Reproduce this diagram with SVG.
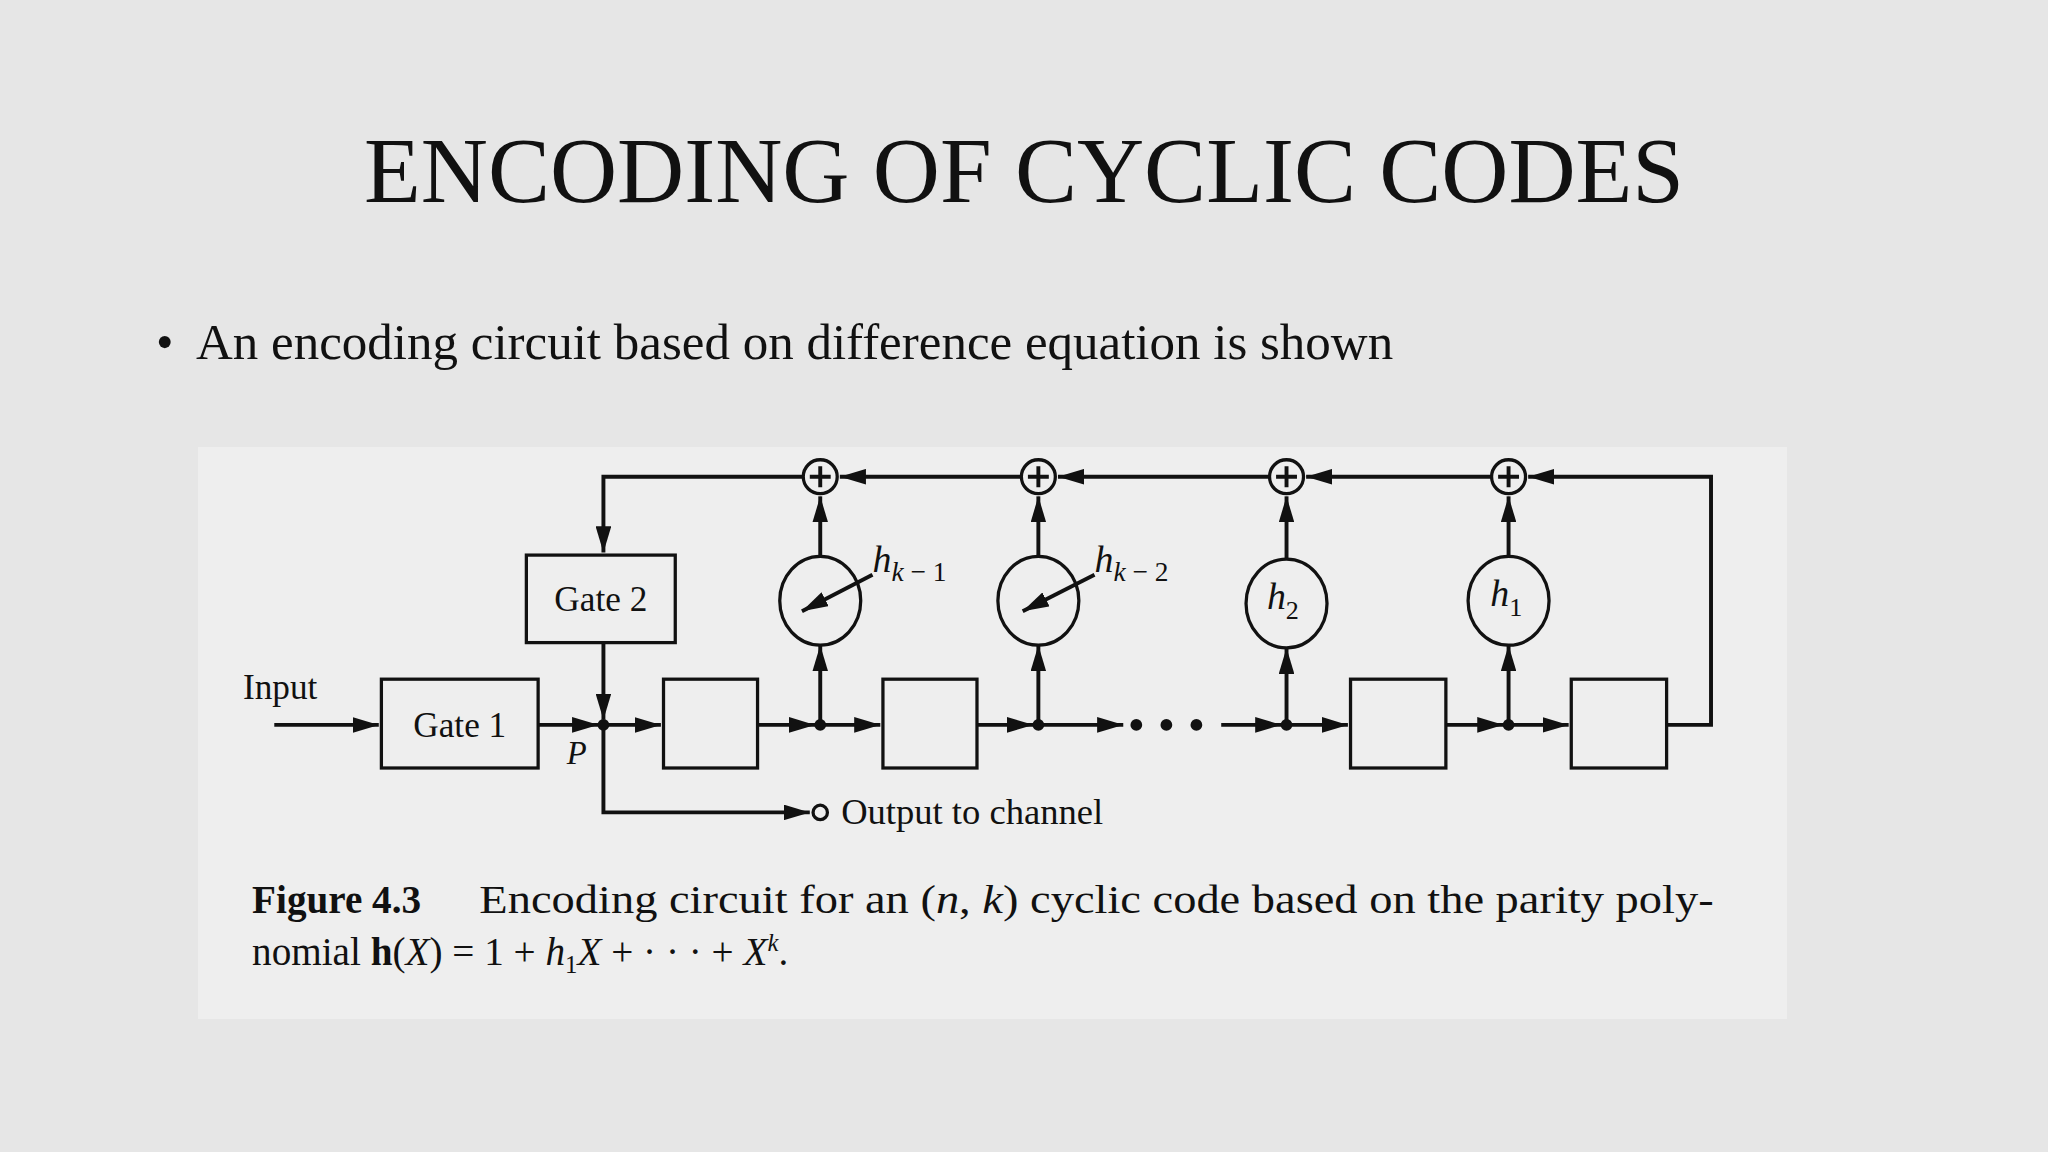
<svg xmlns="http://www.w3.org/2000/svg" width="2048" height="1152" viewBox="0 0 2048 1152">
<defs>
<marker id="ah" viewBox="0 0 10 10" preserveAspectRatio="none" refX="10" refY="5" markerWidth="20" markerHeight="12" markerUnits="userSpaceOnUse" orient="auto"><path d="M0,0 L10,5 L0,10 z" fill="#111"/></marker>
<style>
.ln{stroke:#111;stroke-width:3;fill:none}
.ar{stroke:#111;stroke-width:3;fill:none;marker-end:url(#ah)}
.bx{stroke:#111;stroke-width:2.5;fill:none}
.t{font-family:"Liberation Serif",serif;fill:#111}
</style>
</defs>
<rect width="2048" height="1152" fill="#e6e6e6"/>
<text x="1024" y="202" text-anchor="middle" class="t" font-size="93">ENCODING OF CYCLIC CODES</text>
<text x="156" y="359" class="t" font-size="50">•</text>
<text x="196" y="359" class="t" font-size="51">An encoding circuit based on difference equation is shown</text>
<rect x="198" y="447" width="1589" height="572" fill="#eeeeee"/>
<g transform="scale(1.30612)">
<g id="connectors">
<path class="ar" d="M210,555 H290"/>
<path class="ar" d="M412,555 H458"/>
<path class="ar" d="M462,555 H506"/>
<path class="ar" d="M580,555 H624"/>
<path class="ar" d="M628,555 H674"/>
<path class="ar" d="M748,555 H791"/>
<path class="ar" d="M795,555 H860"/>
<path class="ar" d="M935,555 H981"/>
<path class="ar" d="M985,555 H1032"/>
<path class="ar" d="M1107,555 H1151"/>
<path class="ar" d="M1155,555 H1201"/>
<path class="ar" d="M462,492 V551"/>
<path class="ar" d="M462,555 V622 H620"/>
<path class="ar" d="M1276,555 H1310 V365 H1170"/>
<path class="ar" d="M1142,365 H1000"/>
<path class="ar" d="M972,365 H810"/>
<path class="ar" d="M782,365 H643"/>
<path class="ar" d="M615,365 H462 V423"/>
<path class="ar" d="M628,555 V494"/><path class="ar" d="M628,426 V380"/>
<path class="ar" d="M795,555 V494"/><path class="ar" d="M795,426 V380"/>
<path class="ar" d="M985,555 V496"/><path class="ar" d="M985,428 V380"/>
<path class="ar" d="M1155,555 V494"/><path class="ar" d="M1155,426 V380"/>
<path class="ar" d="M668,440 L614,468" stroke-width="2"/>
<path class="ar" d="M838,440 L783,468" stroke-width="2"/>
<g fill="#111"><circle cx="462" cy="555" r="4.5"/><circle cx="628" cy="555" r="4.5"/><circle cx="795" cy="555" r="4.5"/><circle cx="985" cy="555" r="4.5"/><circle cx="1155" cy="555" r="4.5"/>
<circle cx="870" cy="555" r="4.5"/><circle cx="893" cy="555" r="4.5"/><circle cx="916" cy="555" r="4.5"/></g>
<circle cx="628" cy="622" r="5.5" fill="#eee" stroke="#111" stroke-width="2.5"/>
</g>
<g id="input"><text x="186" y="535" class="t" font-size="27">Input</text></g>
<g id="gate1"><rect class="bx" x="292" y="520" width="120" height="68"/><text x="352" y="564" text-anchor="middle" class="t" font-size="27">Gate 1</text></g>
<g id="gate2"><rect class="bx" x="403" y="425" width="114" height="67"/><text x="460" y="468" text-anchor="middle" class="t" font-size="27">Gate 2</text></g>
<g id="p"><text x="434" y="585" class="t" font-size="25" font-style="italic">P</text></g>
<g id="reg1"><rect class="bx" x="508" y="520" width="72" height="68"/></g>
<g id="reg2"><rect class="bx" x="676" y="520" width="72" height="68"/></g>
<g id="reg3"><rect class="bx" x="1034" y="520" width="73" height="68"/></g>
<g id="reg4"><rect class="bx" x="1203" y="520" width="73" height="68"/></g>
<g id="mul1"><ellipse class="bx" cx="628" cy="460" rx="31" ry="34"/><text x="668" y="438" class="t" font-size="29" font-style="italic">h<tspan font-size="21" dy="7">k <tspan font-style="normal">− 1</tspan></tspan></text></g>
<g id="mul2"><ellipse class="bx" cx="795" cy="460" rx="31" ry="34"/><text x="838" y="438" class="t" font-size="29" font-style="italic">h<tspan font-size="21" dy="7">k <tspan font-style="normal">− 2</tspan></tspan></text></g>
<g id="mul3"><ellipse class="bx" cx="985" cy="462" rx="31" ry="34"/><text x="970" y="466" class="t" font-size="29" font-style="italic">h<tspan font-size="20" dy="8" font-style="normal">2</tspan></text></g>
<g id="mul4"><ellipse class="bx" cx="1155" cy="460" rx="31" ry="34"/><text x="1141" y="464" class="t" font-size="29" font-style="italic">h<tspan font-size="20" dy="8" font-style="normal">1</tspan></text></g>
<g id="add1"><circle class="bx" cx="628" cy="365" r="13"/><path class="ln" stroke-width="1.8" d="M620,365 H636 M628,357 V373"/></g>
<g id="add2"><circle class="bx" cx="795" cy="365" r="13"/><path class="ln" stroke-width="1.8" d="M787,365 H803 M795,357 V373"/></g>
<g id="add3"><circle class="bx" cx="985" cy="365" r="13"/><path class="ln" stroke-width="1.8" d="M977,365 H993 M985,357 V373"/></g>
<g id="add4"><circle class="bx" cx="1155" cy="365" r="13"/><path class="ln" stroke-width="1.8" d="M1147,365 H1163 M1155,357 V373"/></g>
<g id="output"><text x="644" y="631" class="t" font-size="28">Output to channel</text></g>
<g id="caption">
<text x="193" y="699" class="t" font-size="30" font-weight="bold">Figure 4.3</text>
<text x="367" y="699" class="t" font-size="30" textLength="945" lengthAdjust="spacingAndGlyphs">Encoding circuit for an (<tspan font-style="italic">n</tspan>, <tspan font-style="italic">k</tspan>) cyclic code based on the parity poly-</text>
<text x="193" y="739" class="t" font-size="30">nomial <tspan font-weight="bold">h</tspan>(<tspan font-style="italic">X</tspan>) = 1 + <tspan font-style="italic">h</tspan><tspan font-size="19" dy="6">1</tspan><tspan dy="-6" font-style="italic">X</tspan>  +  · · ·  +  <tspan font-style="italic">X</tspan><tspan font-size="19" dy="-11" font-style="italic">k</tspan><tspan dy="11">.</tspan></text>
</g>
</g>
</svg>
